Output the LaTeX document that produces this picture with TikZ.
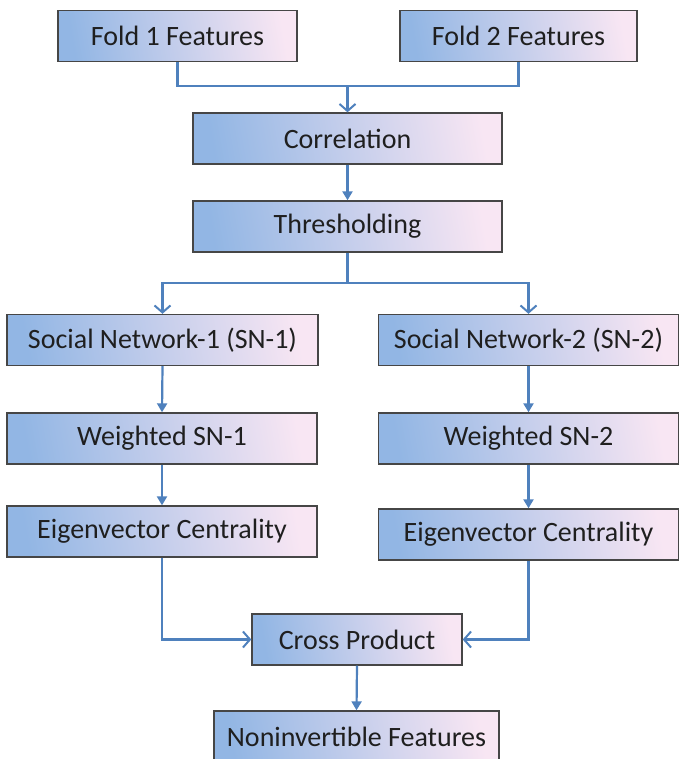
\documentclass[tikz,border=0pt]{standalone}
\usepackage{fontspec}
\setmainfont{Carlito}
\usetikzlibrary{arrows.meta}

\definecolor{boxblue}{RGB}{146,182,228}
\definecolor{boxpink}{RGB}{248,230,243}
\definecolor{linkblue}{RGB}{79,129,189}
\definecolor{boxedge}{RGB}{70,70,70}

\tikzset{
	stage/.style = {draw = boxedge, line width = 1.4pt, left color = boxblue, right color = boxpink, shading angle = 100, minimum height = 51pt, inner sep = 0pt, font = \fontsize{28}{32}\selectfont, text = black!88},
	link/.style = {draw = linkblue, line width = 2.2pt},
	openarrow/.style = {link, -{Straight Barb[length = 7pt, width = 16pt, line width = 2pt]}},
	fillarrow/.style = {link, -{Triangle[length = 9pt, width = 10pt]}}
}

\begin{document}
\begin{tikzpicture}[x = 1pt, y = -1pt]
				\clip (0, 0) rectangle (680, 759);
				\fill[white] (0, 0) rectangle (680, 759);
				% inputs and the common chain
				\node[stage, minimum width = 239pt] (fold1) at (177.5, 36) {Fold 1 Features};
				\node[stage, minimum width = 237pt] (fold2) at (518.5, 36) {Fold 2 Features};
				\node[stage, minimum width = 309pt] (corr) at (347.5, 138.5) {Correlation};
				\node[stage, minimum width = 309pt] (thresh) at (347.5, 226.5) {Thresholding};
				% the two network branches
				\node[stage, minimum width = 311pt] (sn1) at (162.5, 340) {Social Network-1 (SN-1)};
				\node[stage, minimum width = 300pt] (sn2) at (528.5, 340) {Social Network-2 (SN-2)};
				\node[stage, minimum width = 310pt] (wsn1) at (162, 438.5) {Weighted SN-1};
				\node[stage, minimum width = 300pt] (wsn2) at (528.5, 438.5) {Weighted SN-2};
				\node[stage, minimum width = 310pt] (eig1) at (162, 531.5) {Eigenvector Centrality};
				\node[stage, minimum width = 300pt] (eig2) at (528.5, 534.5) {Eigenvector Centrality};
				% merging
				\node[stage, minimum width = 210pt] (cross) at (357, 639.5) {Cross Product};
				\node[stage, minimum width = 285pt, minimum height = 52pt] (noninv) at (356.5, 737) {Noninvertible Features};

				\coordinate (join) at (347.5, 86);
				\coordinate (split) at (347.5, 283);
				\draw[link] (fold1.south) -- (fold1.south |- join) -- (fold2.south |- join) -- (fold2.south);
				\draw[openarrow] (join) -- (corr.north);
				\draw[fillarrow] (corr.south) -- (thresh.north);
				\draw[link] (thresh.south) -- (split);
				\draw[openarrow] (split) -- (sn1.north |- split) -- (sn1.north);
				\draw[openarrow] (split) -- (sn2.north |- split) -- (sn2.north);
				\draw[fillarrow] (sn1.south) -- (wsn1.north);
				\draw[fillarrow] (sn2.south) -- (wsn2.north);
				\draw[fillarrow] (wsn1.south) -- (eig1.north);
				\draw[fillarrow] (wsn2.south) -- (eig2.north);
				\draw[openarrow] (eig1.south) -- (eig1.south |- cross.west) -- (cross.west);
				\draw[openarrow] (eig2.south) -- (eig2.south |- cross.east) -- (cross.east);
				\draw[fillarrow] (cross.south) -- (noninv.north);
			\end{tikzpicture}
\end{document}
